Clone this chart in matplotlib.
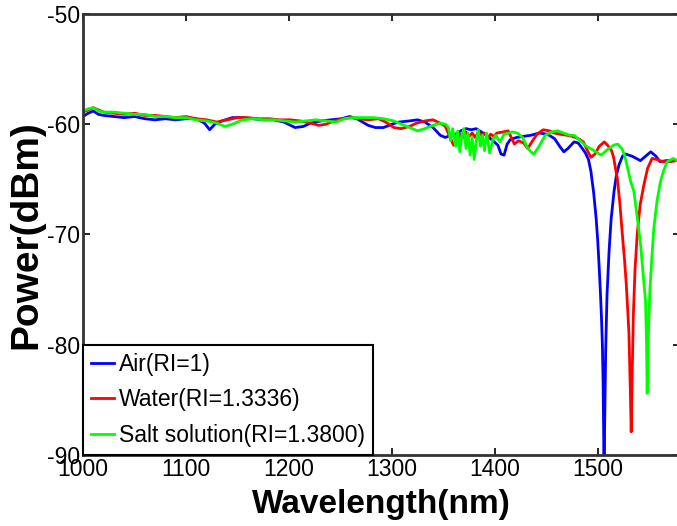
import matplotlib
matplotlib.use("Agg")
import matplotlib.pyplot as plt

plt.rcParams['font.family'] = ['Liberation Sans', 'DejaVu Sans']
plt.rcParams['axes.unicode_minus'] = False

wl_air = [1000,1005,1010,1015,1020,1030,1040,1050,1060,1070,
          1080,1090,1100,1110,1118,1123,1128,1135,1145,1155,
          1165,1175,1185,1195,1206,1214,1221,1231,1241,1251,
          1259,1266,1277,1284,1292,1300,1307,1317,1325,1332,
          1340,1347,1352,1357,1362,1367,1372,1377,1382,1387,
          1392,1397,1403,1406,1409,1412,1415,1421,1428,1435,
          1443,1451,1458,1463,1467,1471,1477,1481,1485,1488,
          1491,1493.4,1496,1498.4,1500,1501.4,1502.6,1503.6,1504.5,1505.2,1506.1,
          1506.9,1507.7,1509,1511,1513,1515.8,1518,1520.6,
          1524,1527,1533.4,1541.4,1551.5,1556.5,1560.5,1566.5,1573.5,1580]
p_air = [-59.3,-59.0,-58.8,-59.1,-59.2,-59.3,-59.4,-59.3,-59.5,-59.6,
         -59.5,-59.6,-59.5,-59.5,-59.9,-60.5,-60.0,-59.7,-59.4,-59.4,
         -59.5,-59.6,-59.6,-59.8,-60.3,-60.2,-59.9,-59.7,-59.6,-59.5,
         -59.3,-59.5,-60.1,-60.3,-60.3,-60.0,-59.8,-59.7,-59.6,-59.8,
         -60.3,-61.0,-61.2,-61.0,-60.9,-60.6,-60.4,-60.5,-60.4,-60.7,
         -61.0,-61.4,-61.9,-62.7,-62.8,-61.8,-61.4,-61.2,-61.1,-61.0,
         -60.8,-60.9,-61.3,-62.0,-62.5,-62.2,-61.6,-61.7,-62.2,-62.6,
         -63.2,-64.3,-66.2,-68.5,-70.6,-73.0,-75.3,-77.5,-80.0,-83.5,-91.0,
         -86.0,-80.5,-75.5,-71.5,-68.6,-66.1,-64.7,-63.7,
         -62.9,-62.7,-62.9,-63.3,-62.5,-62.9,-63.4,-63.3,-63.3,-63.3]

wl_water = [1000,1005,1010,1015,1020,1030,1040,1050,1060,1070,
            1080,1090,1100,1110,1120,1130,1140,1150,1160,1170,
            1181,1191,1201,1211,1221,1229,1236,1244,1252,1260,
            1267,1277,1287,1294,1302,1309,1317,1324,1332,1340,
            1347,1352,1357,1360,1363,1366,1369,1372,1375,1378,
            1381,1384,1387,1390,1393,1396,1399,1402,1408,1413,
            1416,1419,1423,1428,1432,1436,1441,1447,1453,1458,
            1463,1470,1475,1481,1486,1490,1493.4,1497.4,1501.4,1506.4,
            1510.4,1513.4,1515.4,1517.2,1519,1521.5,1523.9,1526,1527.7,1529.2,1530.3,1531.6,
            1532.5,1533.4,1534.5,1536.2,1538.3,1541.2,1544.8,1548.4,1552.8,1557.4,1563.4,1570.4,1576,1580]
p_water = [-58.9,-58.7,-58.5,-58.7,-58.9,-59.0,-59.1,-59.0,-59.2,-59.2,
           -59.3,-59.4,-59.3,-59.5,-59.6,-59.8,-59.6,-59.4,-59.4,-59.5,
           -59.5,-59.6,-59.6,-59.7,-59.9,-60.1,-60.0,-59.7,-59.5,-59.4,
           -59.5,-59.6,-59.5,-59.8,-60.3,-60.4,-60.2,-59.9,-59.7,-59.6,
           -59.9,-60.2,-61.3,-61.9,-61.6,-60.9,-61.2,-60.7,-61.1,-60.8,
           -61.2,-60.7,-61.0,-60.8,-61.3,-60.9,-61.1,-60.8,-60.7,-60.6,
           -61.2,-61.8,-61.5,-61.7,-62.2,-61.6,-60.9,-60.5,-60.6,-60.8,
           -60.9,-61.0,-61.1,-61.3,-61.6,-62.4,-63.0,-62.7,-62.0,-61.6,
           -62.0,-62.4,-63.0,-64.0,-64.9,-67.2,-70.0,-72.3,-74.5,-77.0,-79.0,-84.0,
           -87.9,-83.0,-77.5,-73.2,-70.0,-67.3,-65.5,-64.0,-63.1,-63.2,-63.4,-63.4,-63.3,-63.3]

wl_salt = [1000,1005,1010,1015,1020,1030,1040,1050,1060,1070,
           1080,1090,1100,1110,1120,1130,1138,1145,1155,1165,
           1176,1186,1196,1206,1216,1226,1236,1246,1254,1262,
           1272,1282,1292,1302,1312,1320,1325,1332,1340,1347,
           1352,1355,1357,1359,1362,1364,1366,1368,1370,1372,
           1374,1376,1378,1380,1382,1384,1386,1388,1390,1392,
           1395,1398,1401,1405,1409,1413,1417,1422,1427,1431,
           1435,1438,1443,1449,1455,1461,1467,1473,1477,1483,
           1489,1496.4,1503.4,1509.4,1515.4,1519.4,1523.4,1526,1528.6,1532,1535.1,1538.3,1541.6,
           1544,1545.4,1546.4,1547.4,1548.0,1548.9,1549.7,1550.6,1552.4,1554.4,1557.5,1560.9,1564,1567.4,1573.4,1577,1580]
p_salt = [-58.8,-58.6,-58.5,-58.8,-58.9,-58.9,-59.0,-59.1,-59.1,-59.3,
          -59.3,-59.4,-59.4,-59.6,-59.7,-59.9,-60.2,-60.0,-59.6,-59.5,
          -59.6,-59.6,-59.7,-59.8,-59.7,-59.6,-59.7,-59.8,-59.5,-59.4,
          -59.4,-59.4,-59.5,-59.7,-60.1,-60.4,-60.6,-60.4,-60.1,-59.9,
          -60.0,-60.3,-61.5,-60.4,-62.0,-60.6,-62.5,-61.0,-60.4,-62.2,
          -60.8,-62.8,-61.2,-63.2,-61.5,-60.5,-62.0,-61.0,-62.4,-60.8,
          -62.6,-61.4,-61.0,-61.6,-60.9,-60.8,-60.7,-60.8,-61.2,-62.0,
          -62.5,-62.7,-62.0,-61.0,-60.7,-60.6,-60.8,-61.0,-61.0,-61.5,
          -62.0,-62.4,-62.8,-62.3,-61.9,-61.8,-62.2,-62.8,-63.8,-65.2,-66.1,-68.4,-70.9,
          -73.5,-75.0,-76.0,-80.0,-84.4,-80.0,-77.5,-75.1,-72.3,-69.5,-67.0,-65.2,-64.2,-63.4,-63.1,-63.3,-63.3]

labels = ['Air(RI=1)', 'Water(RI=1.3336)', 'Salt solution(RI=1.3800)']
colors = ['#0000ff', '#ff0000', '#00ff00']
xticks = [1000, 1100, 1200, 1300, 1400, 1500]
yticks = [-90, -80, -70, -60, -50]

fig = plt.figure(figsize=(6.77, 5.26), dpi=100)
ax = fig.add_axes([0.1226, 0.135, 0.882, 0.8384])

for wl, p, lab, c in zip([wl_air, wl_water, wl_salt], [p_air, p_water, p_salt], labels, colors):
    ax.plot(wl, p, color=c, lw=2.0, label=lab)

ax.set_xlim(1000, 1580)
ax.set_ylim(-90, -50)
ax.set_xticks(xticks)
ax.set_yticks(yticks)
ax.set_xticklabels([str(v) for v in xticks])
ax.set_yticklabels([str(v) for v in yticks])
ax.tick_params(direction='in', length=5, width=1.2, labelsize=16.5, top=True, right=True, pad=2, colors='black')
for s in ax.spines.values():
    s.set_linewidth(2)
    s.set_color('#333333')

ax.set_xlabel('Wavelength(nm)', fontsize=24, fontweight='bold', labelpad=6)
ax.set_ylabel('Power(dBm)', fontsize=28, fontweight='bold', labelpad=2)

leg = ax.legend(loc='lower left', bbox_to_anchor=(0, 0), borderaxespad=0, fontsize=16.5,
                frameon=True, fancybox=False, edgecolor='black', framealpha=1,
                handlelength=1.0, handletextpad=0.2, labelspacing=0.55, borderpad=0.35)
leg.get_frame().set_linewidth(1.5)

fig.savefig('out.png', dpi=100)
